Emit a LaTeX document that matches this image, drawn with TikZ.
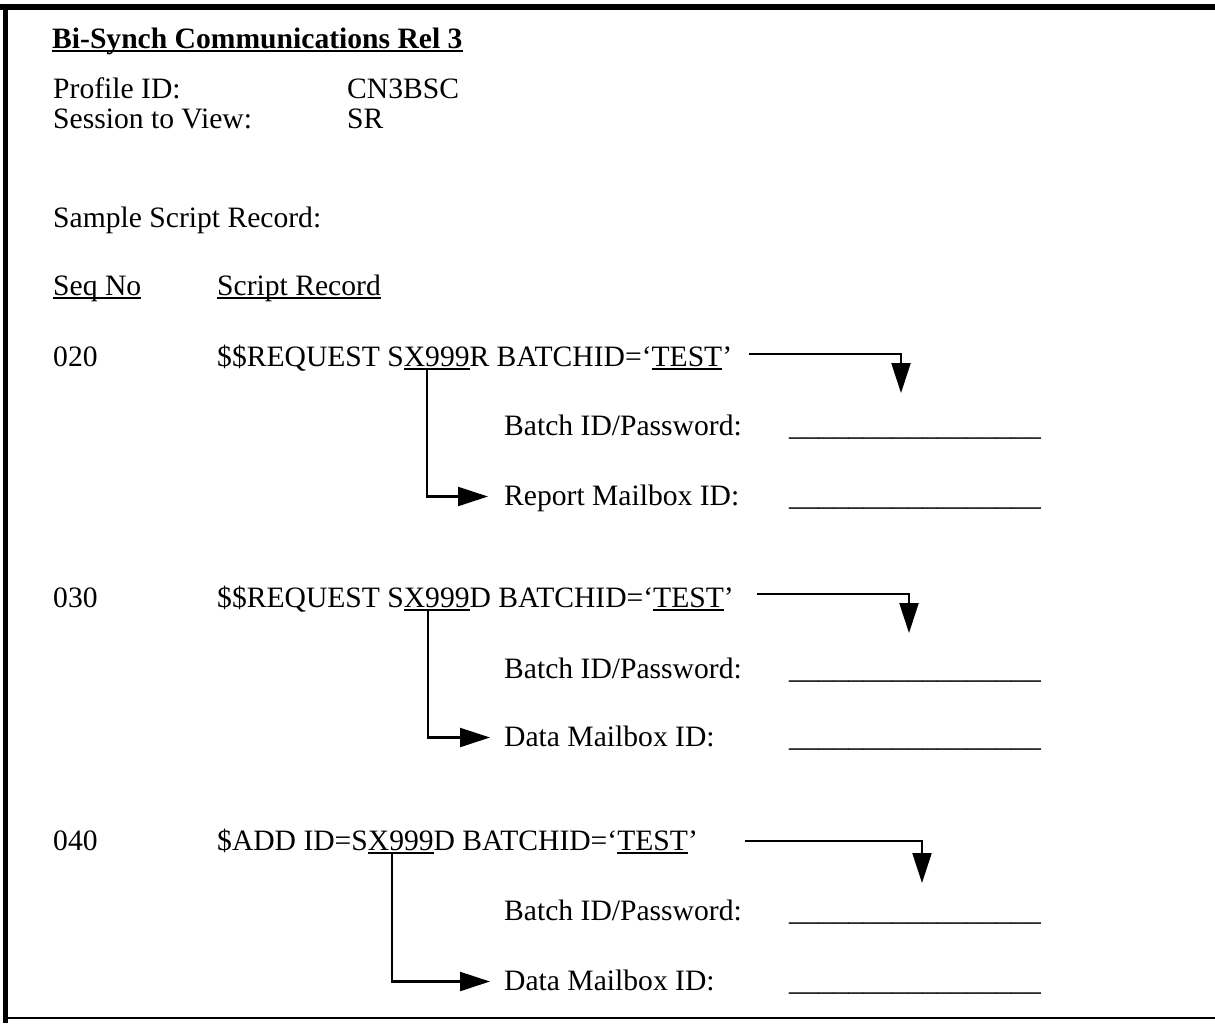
\documentclass[tikz,border=0pt]{standalone}
\usepackage{fontspec}
\setmainfont{Liberation Serif}
\usetikzlibrary{arrows.meta}
\newcommand{\ulined}[1]{\setbox0\hbox{#1}\rlap{\rule[-3.6pt]{\wd0}{1.6pt}}\box0}
\newcommand{\fillin}{\_\_\_\_\_\_\_\_\_\_\_\_\_\_\_\_\_}

\begin{document}
\begin{tikzpicture}[
    x=1pt, y=-1pt,
    every node/.style={inner sep=0pt, anchor=base west, font=\fontsize{29.6}{34}\selectfont},
    lbl/.style={text height=23pt, text depth=6pt}, % Mitte der Zeile fuer die Pfeile
    conn/.style={line width=2.2pt, -{Triangle[length=30pt, width=19pt]}}
]
\useasboundingbox (0,0) rectangle (1215,1023);
\draw[line width=6pt] (0,7) -- (1215,7);
\draw[line width=5pt] (5.5,4) -- (5.5,1023);
\draw[line width=2.5pt] (3,1018) -- (1215,1018);

\node (title) at (52,48) {\ulined{\textbf{Bi-Synch Communications Rel 3}}};
\node (prof) at (53,98) {Profile ID:};
\node (profval) at (347,98) {CN3BSC};
\node (sess) at (53,128) {Session to View:};
\node (sessval) at (347,128) {SR};
\node (sample) at (53,227) {Sample Script Record:};
\node (seqhd) at (53,295) {\ulined{Seq No}};
\node (rechd) at (217,295) {\ulined{Script Record}};

% 020
\node (seq1) at (53,366) {020};
\node (rec1) at (217,366) {\$\$REQUEST S\ulined{X999}R BATCHID=`\ulined{TEST}'};
\node[lbl] (pw1) at (504,435) {Batch ID/Password:};
\node (pwb1) at (789,435) {\fillin};
\node[lbl] (mb1) at (504,505) {Report Mailbox ID:};
\node (mbb1) at (789,505) {\fillin};
\coordinate (x1) at (427,369);
\coordinate (t1) at (749,354);
\coordinate (d1) at (901,393);
\draw[conn, shorten >=16pt] (x1) |- (mb1.west);
\draw[conn] (t1) -| (d1);

% 030
\node (seq2) at (53,607) {030};
\node (rec2) at (217,607) {\$\$REQUEST S\ulined{X999}D BATCHID=`\ulined{TEST}'};
\node[lbl] (pw2) at (504,678) {Batch ID/Password:};
\node (pwb2) at (789,678) {\fillin};
\node[lbl] (mb2) at (504,746) {Data Mailbox ID:};
\node (mbb2) at (789,746) {\fillin};
\coordinate (x2) at (428,610);
\coordinate (t2) at (757,594);
\coordinate (d2) at (909,633);
\draw[conn, shorten >=14pt] (x2) |- (mb2.west);
\draw[conn] (t2) -| (d2);

% 040
\node (seq3) at (53,850) {040};
\node (rec3) at (217,850) {\$ADD ID=S\ulined{X999}D BATCHID=`\ulined{TEST}'};
\node[lbl] (pw3) at (504,920) {Batch ID/Password:};
\node (pwb3) at (789,920) {\fillin};
\node[lbl] (mb3) at (504,990) {Data Mailbox ID:};
\node (mbb3) at (789,990) {\fillin};
\coordinate (x3) at (392,853);
\coordinate (t3) at (745,841);
\coordinate (d3) at (922,883);
\draw[conn, shorten >=14pt] (x3) |- (mb3.west);
\draw[conn] (t3) -| (d3);

\end{tikzpicture}
\end{document}
